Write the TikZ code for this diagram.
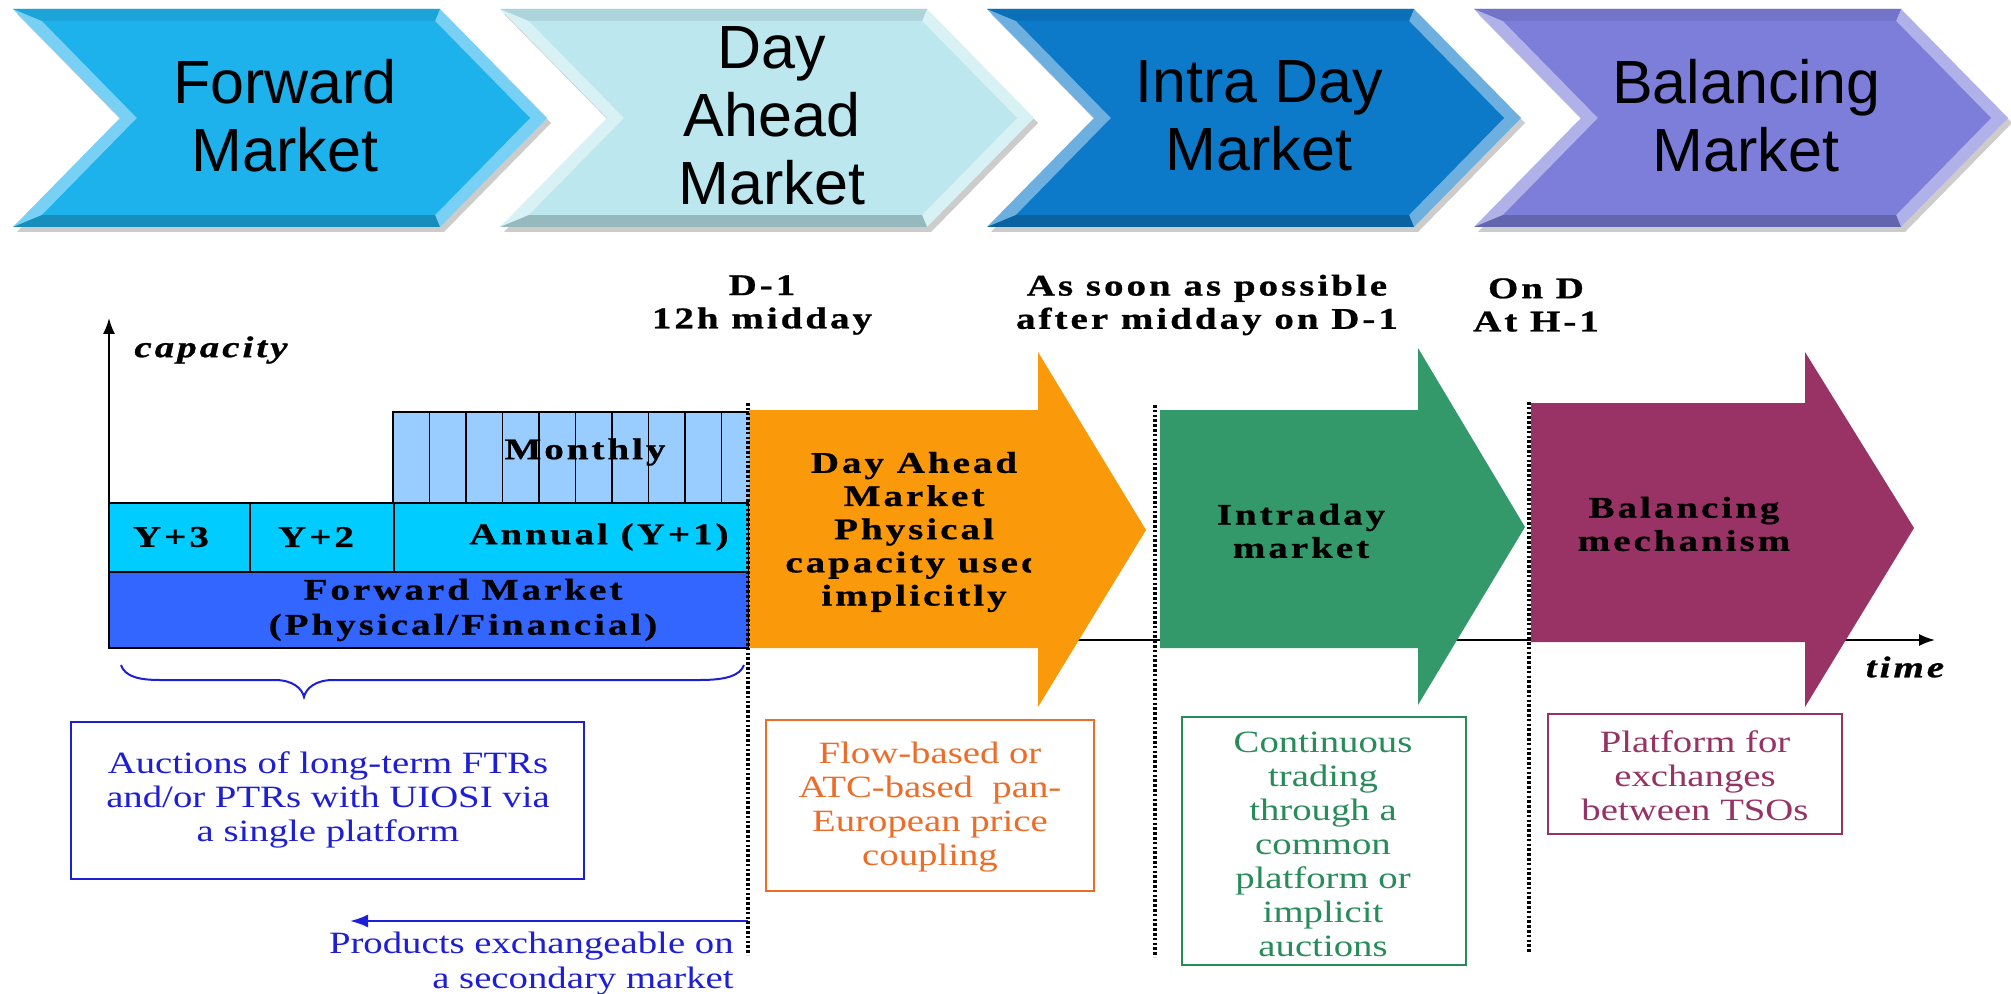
\documentclass[tikz,border=0pt]{standalone}
\usepackage{fontspec}
\setmainfont{Liberation Serif}
\newfontfamily\chevfont{Liberation Sans}
\newfontfamily\serifst[FakeStretch=1.25]{Liberation Serif}
\newfontfamily\boldsp[FakeStretch=1.3,LetterSpace=10,BoldFeatures={FakeBold=0.8},BoldItalicFeatures={FakeBold=0.8}]{Liberation Serif}
\usetikzlibrary{arrows.meta}

\definecolor{cA}{RGB}{30,178,236}
\definecolor{cB}{RGB}{188,231,238}
\definecolor{cC}{RGB}{12,122,200}
\definecolor{cD}{RGB}{124,126,218}
\definecolor{monthc}{RGB}{153,204,255}
\definecolor{yearc}{RGB}{0,204,255}
\definecolor{fwdc}{RGB}{51,102,255}
\definecolor{orangec}{RGB}{250,153,10}
\definecolor{greenc}{RGB}{52,153,106}
\definecolor{purplec}{RGB}{153,51,102}
\definecolor{bluet}{RGB}{30,30,215}
\definecolor{oranget}{RGB}{236,108,40}
\definecolor{greent}{RGB}{40,140,90}
\definecolor{purplet}{RGB}{150,50,100}

\tikzset{
 chevtext/.style={font=\chevfont\fontsize{30.5}{34}\selectfont, align=center, inner sep=0pt},
 blab/.style={font=\boldsp\bfseries\fontsize{15}{16.6}\selectfont, align=center, inner sep=0pt},
 bital/.style={font=\boldsp\bfseries\itshape\fontsize{15}{16.6}\selectfont, inner sep=0pt},
 stext/.style={font=\serifst\fontsize{15.5}{17}\selectfont, align=center, inner sep=0pt},
 chartbox/.style={draw=black, line width=0.7pt},
 dotline/.style={line width=1.6pt, dash pattern=on 1.3pt off 1.1pt},
 infobox/.style={line width=1.1pt, fill=white},
 axisline/.style={line width=0.9pt, -{Latex[length=8pt,width=6pt]}},
}

\newcommand{\drawchev}[4]{%
  \fill[black!20] ({#1+4},14) -- ({#1+431},14) -- ({#1+538},123) -- ({#1+431},232) -- ({#1+4},232) -- ({#1+111},123) -- cycle;
  \fill[#2!60!white] (#1,9) -- ({#1+427},9) -- ({#1+534},118) -- ({#1+427},227) -- (#1,227) -- ({#1+107},118) -- cycle;
  \fill[#2!80!black] (#1,227) -- ({#1+427},227) -- ({#1+422},215) -- ({#1+29},215) -- cycle;
  \fill[#2!92!black] ({#1+29},21) -- ({#1+422},21) -- ({#1+427},9) -- (#1,9) -- cycle;
  \fill[#2] ({#1+29},21) -- ({#1+422},21) -- ({#1+517},118) -- ({#1+422},215) -- ({#1+29},215) -- ({#1+124},118) -- cycle;
  \node[chevtext] (#3) at ({#1+272},116) {#4};
}

\begin{document}
\begin{tikzpicture}[x=0.5pt,y=-0.5pt]
\fill[white] (0,0) rectangle (2011,994);
\useasboundingbox (0,0) rectangle (2011,994);

% chevrons
\drawchev{13}{cA}{fwd}{Forward\\Market}
\drawchev{500}{cB}{dam}{Day\\Ahead\\Market}
\drawchev{987}{cC}{idm}{Intra Day\\Market}
\drawchev{1474}{cD}{bal}{Balancing\\Market}

% axes
\coordinate (origin) at (109,640);
\coordinate (ytop) at (109,318);
\coordinate (xend) at (1935,640);
\draw[axisline] (origin) -- (ytop);
\draw[axisline] (origin) -- (xend);
\node[bital] (cap) at (211,350) {capacity};
\node[bital] (time) at (1905,667) {time};

% chart boxes
\fill[monthc] (393,412) rectangle (749,503);
\foreach \k in {1,...,9} { \draw[line width=0.7pt] ({393+36.5*\k},412) -- ({393+36.5*\k},503); }
\draw[chartbox] (393,503) -- (393,412) -- (749,412);
\fill[yearc] (109,503) rectangle (749,572);
\draw[chartbox] (109,503) rectangle (749,572);
\draw[chartbox] (250,503) -- (250,572);
\draw[chartbox] (394,503) -- (394,572);
\fill[fwdc] (109,572) rectangle (749,648);
\draw[chartbox] (109,572) rectangle (749,648);
\node[blab] (mon) at (585,452) {Monthly};
\node[blab] (y3) at (171,537) {Y+3};
\node[blab] (y2) at (316,537) {Y+2};
\node[blab] (ann) at (599,537) {Annual (Y+1)};
\node[blab, font=\boldsp\bfseries\fontsize{15}{17.5}\selectfont] (fm) at (463,610) {Forward Market\\(Physical/Financial)};

% headings
\node[blab] (h1) at (762,305) {D-1\\12h midday};
\node[blab] (h2) at (1207,305) {As soon as possible\\after midday on D-1};
\node[blab] (h3) at (1536,305) {On D\\At H-1};

% block arrows
\fill[orangec] (749,410) -- (1038,410) -- (1038,352) -- (1146,530) -- (1038,707) -- (1038,648) -- (749,648) -- cycle;
\fill[greenc] (1160,410) -- (1418,410) -- (1418,348) -- (1525,527) -- (1418,705) -- (1418,648) -- (1160,648) -- cycle;
\fill[purplec] (1531,403) -- (1805,403) -- (1805,352) -- (1914,528) -- (1805,707) -- (1805,642) -- (1531,642) -- cycle;
\begin{scope}
\clip (749,420) rectangle (1031,640);
\node[blab] (dat) at (914,532) {Day Ahead\\Market\\Physical\\capacity used\\implicitly};
\end{scope}
\node[blab] (idt) at (1301,531) {Intraday\\market};
\node[blab] (bmt) at (1684,524) {Balancing\\mechanism};

% brace
\draw[bluet, line width=1pt] (121,665) .. controls (125,677) and (140,680) .. (160,680) -- (275,680) .. controls (292,680) and (302,688) .. (304,697) .. controls (306,688) and (316,680) .. (333,680) -- (700,680) .. controls (725,680) and (740,676) .. (744,665);

% info boxes
\draw[infobox, draw=bluet] (71,722) rectangle (584,879);
\node[stext, text=bluet] (auc) at (328,800) {Auctions of long-term FTRs\\and/or PTRs with UIOSI via\\a single platform};
\draw[infobox, draw=oranget] (766,720) rectangle (1094,891);
\node[stext, text=oranget] (flow) at (930,807) {Flow-based or\\ATC-based\ \ pan-\\European price\\coupling};
\draw[infobox, draw=greent] (1182,717) rectangle (1466,965);
\node[stext, text=greent] (cont) at (1323,844) {Continuous\\trading\\through a\\common\\platform or\\implicit\\auctions};
\draw[infobox, draw=purplet] (1548,714) rectangle (1842,834);
\node[stext, text=purplet] (plat) at (1695,776) {Platform for\\exchanges\\between TSOs};

% secondary market arrow
\coordinate (secstart) at (748,921);
\coordinate (secend) at (350,921);
\draw[bluet, line width=1.1pt, -{Latex[length=9pt,width=6.5pt]}] (secstart) -- (secend);
\node[stext, text=bluet, align=right, anchor=east, font=\serifst\fontsize{15.5}{17.5}\selectfont] (prod) at (734,964) {Products exchangeable on\\a secondary market};

% dotted lines
\coordinate (d1t) at (748,403); \coordinate (d1b) at (748,955);
\coordinate (d2t) at (1155,405); \coordinate (d2b) at (1155,957);
\coordinate (d3t) at (1529,402); \coordinate (d3b) at (1529,953);
\draw[dotline] (d1t) -- (d1b);
\draw[dotline] (d2t) -- (d2b);
\draw[dotline] (d3t) -- (d3b);
\end{tikzpicture}
\end{document}
